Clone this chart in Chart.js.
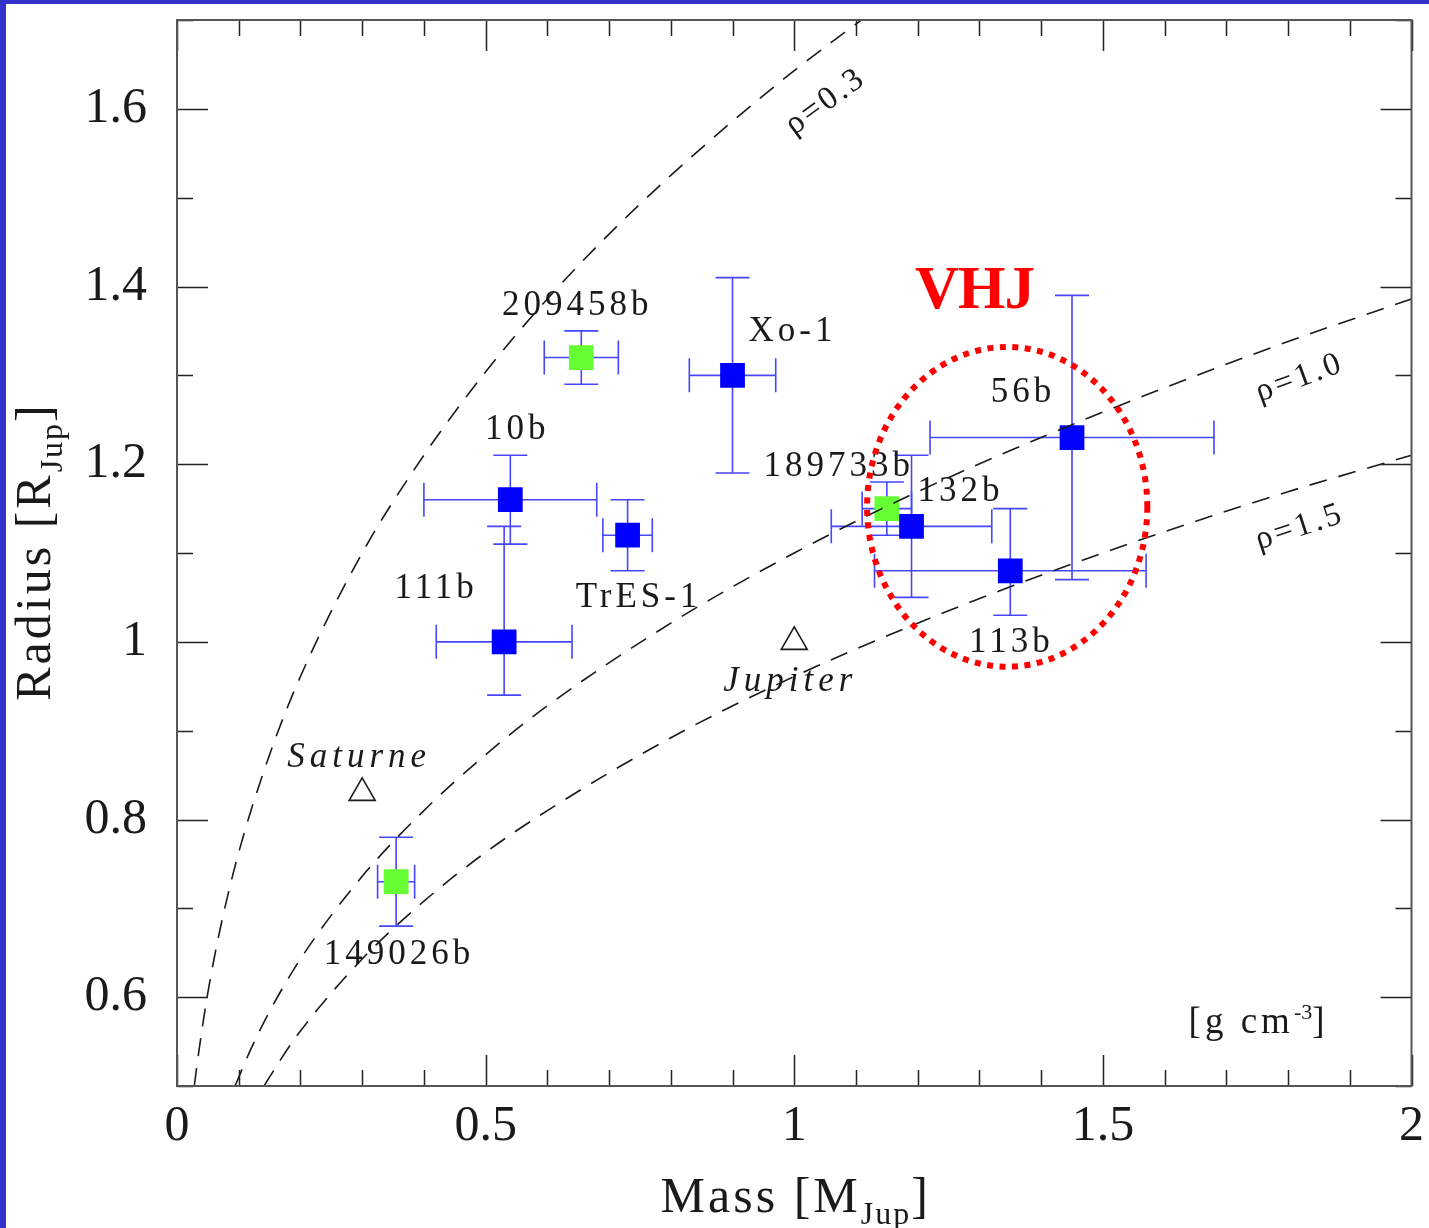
<!DOCTYPE html>
<html>
<head>
<meta charset="utf-8">
<title>Mass–radius diagram of transiting planets</title>
<script src="https://cdn.jsdelivr.net/npm/chart.js@4.4.1/dist/chart.umd.min.js"></script>
<style>
  html, body { margin: 0; padding: 0; background: #fff; }
  #wrap { position: relative; width: 1429px; height: 1228px; }
</style>
</head>
<body>
<div id="wrap"><canvas id="massRadius" width="1429" height="1228"></canvas></div>
<script>
// axis ticks
const xTicks = [0, 0.5, 1, 1.5, 2];
const yTicks = [0.6, 0.8, 1.0, 1.2, 1.4, 1.6];

// planets with blue markers
const blueNames = ['Xo-1', '10b', '111b', 'TrES-1', '132b', '56b', '113b'];
const blueMass = [0.90, 0.54, 0.53, 0.73, 1.19, 1.45, 1.35];
const blueRadius = [1.30, 1.16, 1.00, 1.12, 1.13, 1.23, 1.08];
const blueMassErr = [0.07, 0.14, 0.11, 0.04, 0.13, 0.23, 0.22];
const blueRadiusErrUp = [0.11, 0.05, 0.13, 0.04, 0.08, 0.16, 0.07];
const blueRadiusErrDown = [0.11, 0.05, 0.06, 0.04, 0.08, 0.16, 0.05];

// planets with green markers
const greenNames = ['209458b', '189733b', '149026b'];
const greenMass = [0.655, 1.15, 0.355];
const greenRadius = [1.32, 1.15, 0.73];
const greenMassErr = [0.06, 0.04, 0.03];
const greenRadiusErrUp = [0.03, 0.03, 0.05];
const greenRadiusErrDown = [0.03, 0.03, 0.05];

// solar system giants
const solarNames = ['Saturne', 'Jupiter'];
const solarMass = [0.30, 1.00];
const solarRadius = [0.83, 1.00];

// iso-density curves (g cm^-3)
const rhoLabels = ['ρ=0.3', 'ρ=1.0', 'ρ=1.5'];
const rho03Mass = [0.028, 0.035, 0.05, 0.07, 0.1, 0.15, 0.2, 0.3, 0.4, 0.5, 0.6, 0.7, 0.8, 0.9, 1.0, 1.13];
const rho03Radius = [0.50, 0.537, 0.605, 0.677, 0.763, 0.873, 0.961, 1.100, 1.210, 1.304, 1.386, 1.459, 1.525, 1.586, 1.643, 1.711];
const rho10Mass = [0.094, 0.12, 0.15, 0.2, 0.3, 0.4, 0.5, 0.6, 0.8, 1.0, 1.2, 1.4, 1.6, 1.8, 2.0];
const rho10Radius = [0.50, 0.542, 0.584, 0.643, 0.736, 0.810, 0.873, 0.928, 1.021, 1.100, 1.169, 1.230, 1.286, 1.338, 1.386];
const rho15Mass = [0.141, 0.17, 0.2, 0.3, 0.4, 0.5, 0.6, 0.8, 1.0, 1.2, 1.4, 1.6, 1.8, 2.0];
const rho15Radius = [0.50, 0.532, 0.562, 0.643, 0.708, 0.763, 0.810, 0.892, 0.961, 1.021, 1.075, 1.124, 1.169, 1.210];

// very hot Jupiter group (centre and half-axes, in mass / radius units)
const vhjCentre = [1.345, 1.152];
const vhjHalfAxes = [0.227, 0.18];

const SERIF = '"Liberation Serif", "DejaVu Serif", serif';
const INK = '#1a1a1a';

// label placement, pixel offsets from the marker
const nameOffsets = {
  'Xo-1': [60, -44], '10b': [7, -70], '111b': [-68, -53], 'TrES-1': [11, 63],
  '132b': [49, -35], '56b': [-49, -45], '113b': [1, 72],
  '209458b': [-4, -52], '189733b': [-48, -42], '149026b': [3, 73],
  'Saturne': [-3, -35], 'Jupiter': [-4, 40]
};

const pts = (xs, ys) => xs.map((x, i) => ({ x: x, y: ys[i] }));

const curveStyle = {
  showLine: true, borderColor: INK, borderWidth: 1.6, borderDash: [18, 12],
  pointRadius: 0, cubicInterpolationMode: 'monotone', fill: false, order: 0
};

function drawText(ctx, text, x, y, opt) {
  ctx.save();
  ctx.translate(x, y);
  if (opt.rotation) ctx.rotate(opt.rotation);
  ctx.font = opt.font;
  ctx.fillStyle = opt.color || INK;
  ctx.textAlign = opt.align || 'center';
  ctx.textBaseline = opt.baseline || 'middle';
  ctx.letterSpacing = (opt.spacing || 0) + 'px';
  ctx.fillText(text, 0, 0);
  ctx.restore();
}

// text made of pieces, some lowered or raised (subscripts / superscripts)
function drawRichText(ctx, parts, x, y, rotation) {
  ctx.save();
  ctx.translate(x, y);
  if (rotation) ctx.rotate(rotation);
  ctx.textBaseline = 'alphabetic';
  ctx.textAlign = 'left';
  ctx.fillStyle = INK;
  let total = 0;
  parts.forEach(p => { ctx.font = p.font; ctx.letterSpacing = (p.spacing || 0) + 'px'; total += ctx.measureText(p.text).width; });
  let cx = -total / 2;
  parts.forEach(p => {
    ctx.font = p.font;
    ctx.letterSpacing = (p.spacing || 0) + 'px';
    ctx.fillText(p.text, cx, p.shift || 0);
    cx += ctx.measureText(p.text).width;
  });
  ctx.restore();
}

const framePlugin = {
  id: 'frame',
  beforeDraw(chart) {
    const ctx = chart.ctx;
    ctx.save();
    ctx.fillStyle = '#ffffff';
    ctx.fillRect(0, 0, chart.width, chart.height);
    ctx.fillStyle = '#3333cc';
    ctx.fillRect(0, 0, 6, chart.height);
    ctx.fillRect(0, 0, chart.width, 4);
    ctx.restore();
  }
};

const errorBarPlugin = {
  id: 'errorBars',
  beforeDatasetsDraw(chart) {
    const ctx = chart.ctx, xs = chart.scales.x, ys = chart.scales.y;
    const cap = 17;
    ctx.save();
    ctx.strokeStyle = 'rgb(70,70,255)';
    ctx.lineWidth = 1.6;
    chart.data.datasets.forEach(ds => {
      if (!ds.errors) return;
      ds.data.forEach((p, i) => {
        const e = ds.errors;
        const px = xs.getPixelForValue(p.x), py = ys.getPixelForValue(p.y);
        const xl = xs.getPixelForValue(p.x - e.mass[i]), xr = xs.getPixelForValue(p.x + e.mass[i]);
        const yt = ys.getPixelForValue(p.y + e.up[i]), yb = ys.getPixelForValue(p.y - e.down[i]);
        ctx.beginPath();
        ctx.moveTo(xl, py); ctx.lineTo(xr, py);
        ctx.moveTo(xl, py - cap); ctx.lineTo(xl, py + cap);
        ctx.moveTo(xr, py - cap); ctx.lineTo(xr, py + cap);
        ctx.moveTo(px, yt); ctx.lineTo(px, yb);
        ctx.moveTo(px - cap, yt); ctx.lineTo(px + cap, yt);
        ctx.moveTo(px - cap, yb); ctx.lineTo(px + cap, yb);
        ctx.stroke();
      });
    });
    ctx.restore();
  }
};

const decorPlugin = {
  id: 'decor',
  afterDatasetsDraw(chart) {
    const ctx = chart.ctx, xs = chart.scales.x, ys = chart.scales.y;
    const nameFont = '35px ' + SERIF;

    // planet names next to their markers
    chart.data.datasets.forEach(ds => {
      if (!ds.names) return;
      ds.data.forEach((p, i) => {
        const name = ds.names[i];
        const off = nameOffsets[name];
        const italic = ds.pointStyle === 'triangle';
        drawText(ctx, name, xs.getPixelForValue(p.x) + off[0], ys.getPixelForValue(p.y) + off[1], {
          font: (italic ? 'italic ' : '') + nameFont, spacing: italic ? 5 : 4
        });
      });
    });

    // density curve labels
    const rhoPos = [[1.051, 1.608, -36], [1.819, 1.297, -20], [1.819, 1.129, -18]];
    rhoLabels.forEach((t, i) => {
      const [m, r, a] = rhoPos[i];
      drawText(ctx, t, xs.getPixelForValue(m), ys.getPixelForValue(r), {
        font: '33px ' + SERIF, spacing: 3, rotation: a * Math.PI / 180
      });
    });

    // unit of the density labels
    drawRichText(ctx, [
      { text: '[g cm', font: '37px ' + SERIF, spacing: 4 },
      { text: '-3', font: '22px ' + SERIF, shift: -14 },
      { text: ']', font: '37px ' + SERIF }
    ], xs.getPixelForValue(1.749), ys.getPixelForValue(0.573) + 12, 0);

    // dotted ellipse around the very hot Jupiters
    const cx = xs.getPixelForValue(vhjCentre[0]), cy = ys.getPixelForValue(vhjCentre[1]);
    const rx = xs.getPixelForValue(vhjCentre[0] + vhjHalfAxes[0]) - cx;
    const ry = cy - ys.getPixelForValue(vhjCentre[1] + vhjHalfAxes[1]);
    ctx.save();
    ctx.strokeStyle = '#ff0000';
    ctx.lineWidth = 6;
    ctx.setLineDash([6, 6.5]);
    ctx.beginPath();
    ctx.ellipse(cx, cy, rx, ry, 0, 0, Math.PI * 2);
    ctx.stroke();
    ctx.restore();

    drawText(ctx, 'VHJ', xs.getPixelForValue(1.292), ys.getPixelForValue(1.393), {
      font: 'bold 61px ' + SERIF, color: '#ff0000', spacing: -1
    });
  },
  afterDraw(chart) {
    const ctx = chart.ctx, xs = chart.scales.x, ys = chart.scales.y;
    const a = chart.chartArea;

    // inward ticks on all four sides
    ctx.save();
    ctx.strokeStyle = '#222';
    ctx.lineWidth = 1.5;
    ctx.beginPath();
    for (let k = 0; k <= 20; k++) {
      const v = k / 10;
      const major = k % 5 === 0;
      const len = major ? 31 : 16;
      const px = Math.round(xs.getPixelForValue(v)) + 0.5;
      ctx.moveTo(px, a.bottom); ctx.lineTo(px, a.bottom - len);
      ctx.moveTo(px, a.top); ctx.lineTo(px, a.top + len);
    }
    for (let k = 5; k <= 17; k++) {
      const v = k / 10;
      const major = k % 2 === 0;
      const len = major ? 31 : 16;
      const py = Math.round(ys.getPixelForValue(v)) + 0.5;
      ctx.moveTo(a.left, py); ctx.lineTo(a.left + len, py);
      ctx.moveTo(a.right, py); ctx.lineTo(a.right - len, py);
    }
    ctx.stroke();
    ctx.strokeStyle = '#555';
    ctx.lineWidth = 2;
    ctx.strokeRect(a.left, a.top, a.right - a.left, a.bottom - a.top);
    ctx.restore();

    // axis titles with subscripts
    drawRichText(ctx, [
      { text: 'Mass [M', font: '50px ' + SERIF, spacing: 3 },
      { text: 'Jup', font: '32px ' + SERIF, spacing: 2, shift: 12 },
      { text: ']', font: '50px ' + SERIF }
    ], (a.left + a.right) / 2, 1212, 0);
    drawRichText(ctx, [
      { text: 'Radius [R', font: '50px ' + SERIF, spacing: 3 },
      { text: 'Jup', font: '32px ' + SERIF, spacing: 2, shift: 12 },
      { text: ']', font: '50px ' + SERIF }
    ], 50, (a.top + a.bottom) / 2, -Math.PI / 2);
  }
};

new Chart(document.getElementById('massRadius').getContext('2d'), {
  type: 'scatter',
  data: {
    datasets: [
      { label: rhoLabels[0], data: pts(rho03Mass, rho03Radius), ...curveStyle },
      { label: rhoLabels[1], data: pts(rho10Mass, rho10Radius), ...curveStyle },
      { label: rhoLabels[2], data: pts(rho15Mass, rho15Radius), ...curveStyle },
      {
        label: 'blue', data: pts(blueMass, blueRadius), names: blueNames,
        errors: { mass: blueMassErr, up: blueRadiusErrUp, down: blueRadiusErrDown },
        pointStyle: 'rect', pointRadius: 17.5, backgroundColor: '#0000ff', borderColor: '#0000ff', borderWidth: 0, order: 1
      },
      {
        label: 'green', data: pts(greenMass, greenRadius), names: greenNames,
        errors: { mass: greenMassErr, up: greenRadiusErrUp, down: greenRadiusErrDown },
        pointStyle: 'rect', pointRadius: 17.5, backgroundColor: '#66ff33', borderColor: '#66ff33', borderWidth: 0, order: 1
      },
      {
        label: 'solar', data: pts(solarMass, solarRadius), names: solarNames,
        pointStyle: 'triangle', pointRadius: 15, backgroundColor: 'rgba(0,0,0,0)', borderColor: INK, borderWidth: 1.6, order: 1
      }
    ]
  },
  options: {
    responsive: false,
    animation: false,
    events: [],
    layout: { padding: { top: 20, right: 11, left: 0, bottom: 0 } },
    plugins: { legend: { display: false }, tooltip: { enabled: false } },
    scales: {
      x: {
        type: 'linear', min: 0, max: 2,
        grid: { display: false, drawTicks: false },
        border: { display: false },
        afterBuildTicks: s => { s.ticks = xTicks.map(v => ({ value: v })); },
        afterFit: s => { s.height = 142; s.paddingLeft = 0; s.paddingRight = 0; },
        ticks: { padding: 11, color: INK, font: { family: SERIF, size: 50 }, callback: v => String(+v.toFixed(2)) }
      },
      y: {
        type: 'linear', min: 0.5, max: 1.7,
        grid: { display: false, drawTicks: false },
        border: { display: false },
        afterBuildTicks: s => { s.ticks = yTicks.map(v => ({ value: v })); },
        afterFit: s => { s.width = 177; s.paddingTop = 0; s.paddingBottom = 0; },
        ticks: { padding: 30, color: INK, font: { family: SERIF, size: 50 }, callback: v => String(+v.toFixed(2)) }
      }
    }
  },
  plugins: [framePlugin, errorBarPlugin, decorPlugin]
});
</script>
</body>
</html>
